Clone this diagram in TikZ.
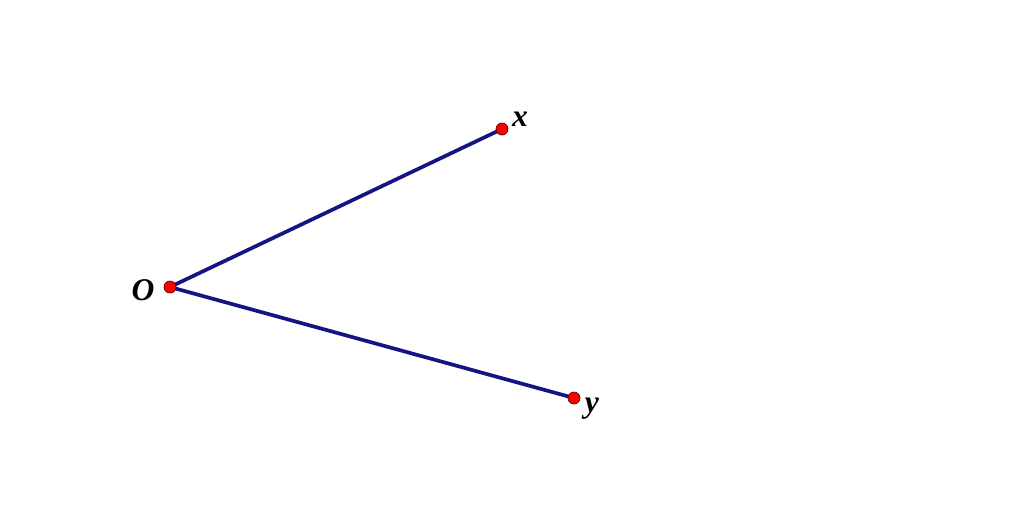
\documentclass[tikz,border=0pt]{standalone}
\usepackage{fontspec}
\setmainfont{Liberation Serif}
\begin{document}
\begin{tikzpicture}[x=0.02cm,y=-0.02cm,
  seg/.style={draw={rgb,255:red,20;green,20;blue,130},line width=2.1pt},
  pt/.style={circle,fill=red,draw={rgb,255:red,90;green,0;blue,0},line width=0.4pt,inner sep=0pt,minimum size=12*0.02cm},
  lbl/.style={font=\fontsize{18}{21}\selectfont\bfseries\itshape,inner sep=0pt}]
\useasboundingbox[fill=white] (0,0) rectangle (1024,529);
\coordinate (O) at (170,287);
\coordinate (X) at (502,129);
\coordinate (Y) at (574,398);
\draw[seg] (O) -- (X);
\draw[seg] (O) -- (Y);
\node[pt] (o) at (O) {};
\node[pt] (x) at (X) {};
\node[pt] (y) at (Y) {};
\node[lbl] (lo) at (143,290) {O};
\node[lbl] (lx) at (520,119) {x};
\node[lbl] (ly) at (592,409) {y};
\end{tikzpicture}
\end{document}
